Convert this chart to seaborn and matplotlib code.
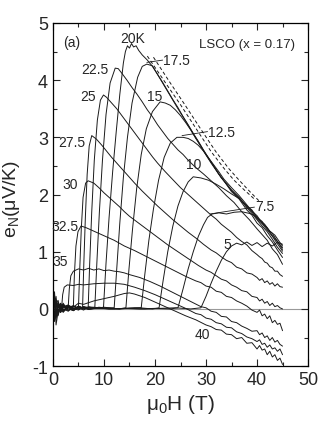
import matplotlib
matplotlib.use("Agg")
import matplotlib.pyplot as plt
import seaborn as sns
import pandas as pd
from matplotlib.ticker import MultipleLocator

# --- data: field mu0H (T) and Nernst signal e_N (uV/K) per temperature ---
h05 = [0, 0.3, 0.6, 1.0, 1.5, 2, 3, 4, 5, 6, 7, 9, 12, 15, 18, 21, 24, 27, 29, 30, 31, 32, 33, 34, 35, 36, 37, 38, 39, 40, 41, 42, 43, 44, 45]
e05 = [0, 0.15, -0.12, 0.06, -0.04, 0.05, -0.03, 0.04, 0.0, 0.03, -0.01, 0.02, 0.0, 0.01, 0.0, 0.01, 0.02, 0.0, 0.02, 0.22, 0.45, 0.66, 0.85, 1.0, 1.1, 1.15, 1.12, 1.17, 1.11, 1.16, 1.09, 1.15, 1.1, 1.17, 1.13]

h075 = [0, 0.3, 0.6, 1.0, 1.5, 2, 3, 4, 5, 6, 8, 11, 14, 17, 20, 23, 24.5, 25.5, 26.5, 27.5, 28.5, 29.5, 30.3, 31.2, 32.5, 34, 35.5, 37, 38.5, 39.5, 40.5, 41.5, 42.5, 43.5, 44.5, 45]
e075 = [0, -0.1, 0.12, -0.05, 0.07, -0.02, 0.05, -0.03, 0.03, 0.0, 0.02, 0.0, 0.01, 0.0, 0.01, 0.0, 0.02, 0.35, 0.7, 1.0, 1.27, 1.47, 1.6, 1.66, 1.68, 1.66, 1.69, 1.7, 1.67, 1.64, 1.55, 1.48, 1.36, 1.29, 1.16, 1.1]

h10 = [0, 0.3, 0.6, 1.0, 1.5, 2, 3, 4, 5, 6, 8, 11, 14, 17, 19.5, 20.8, 21.6, 22.5, 23.5, 24.5, 25.5, 26.5, 27.5, 29, 30.5, 32, 33.5, 35, 36.5, 38, 39, 40, 41, 42, 43, 44, 45]
e10 = [0, 0.08, -0.1, 0.1, -0.06, 0.04, 0.07, -0.02, 0.05, 0.01, 0.03, 0.0, 0.01, 0.02, 0.0, 0.02, 0.5, 1.0, 1.45, 1.8, 2.05, 2.22, 2.31, 2.29, 2.25, 2.18, 2.1, 2.01, 1.93, 1.8, 1.73, 1.6, 1.53, 1.4, 1.32, 1.18, 1.07]

h125 = [0, 0.3, 0.6, 1.0, 1.5, 2, 3, 4, 5, 6, 8, 10, 13, 16, 17.3, 18, 18.8, 19.7, 20.7, 21.8, 23, 24.3, 25.5, 26.5, 27.5, 28.5, 29.5, 30.5, 31.5, 32.5, 33.5, 35, 36.5, 38, 39, 40, 41, 42, 43, 44, 45]
e125 = [0, 0.2, -0.05, 0.04, 0.09, -0.04, 0.02, 0.06, -0.01, 0.04, 0.01, 0.03, 0.0, 0.02, 0.02, 0.6, 1.2, 1.75, 2.25, 2.65, 2.9, 3.0, 3.0, 2.98, 2.93, 2.86, 2.76, 2.64, 2.52, 2.4, 2.27, 2.12, 1.98, 1.82, 1.71, 1.63, 1.5, 1.42, 1.28, 1.18, 1.04]

h15 = [0, 0.3, 0.6, 1.0, 1.5, 2, 3, 4, 5, 6, 7, 9, 11, 13, 14.3, 14.9, 15.6, 16.4, 17.3, 18.3, 19.5, 21, 22, 23, 24, 25, 26, 27, 28, 29, 30, 31, 32, 33, 34, 35, 36.5, 38, 39, 40, 41, 42, 43, 44, 45]
e15 = [0, -0.15, 0.1, -0.08, 0.05, 0.08, -0.03, 0.05, 0.02, -0.02, 0.04, 0.01, 0.02, 0.0, 0.02, 0.7, 1.4, 2.1, 2.7, 3.15, 3.45, 3.62, 3.6, 3.56, 3.48, 3.38, 3.26, 3.13, 2.98, 2.84, 2.69, 2.55, 2.42, 2.29, 2.19, 2.08, 1.95, 1.79, 1.7, 1.58, 1.49, 1.38, 1.27, 1.14, 1.01]

h175 = [0, 0.3, 0.6, 1.0, 1.5, 2, 3, 4, 5, 6, 7, 9, 11, 12, 12.5, 13.1, 13.8, 14.6, 15.5, 16.6, 17.5, 18.4, 19.5, 20.5, 21.5, 22.5, 23.5, 24.5, 25.5, 26.5, 27.5, 28.5, 29.5, 30.5, 31.5, 32.5, 33.5, 35, 36.5, 38, 39, 40, 41, 42, 43, 44, 45]
e175 = [0, 0.1, 0.22, -0.1, 0.03, -0.05, 0.06, 0.0, 0.04, 0.02, -0.01, 0.03, 0.01, 0.02, 0.7, 1.5, 2.3, 3.0, 3.6, 4.05, 4.24, 4.28, 4.25, 4.1, 3.95, 3.8, 3.65, 3.5, 3.36, 3.21, 3.06, 2.92, 2.77, 2.63, 2.5, 2.36, 2.24, 2.07, 1.94, 1.77, 1.67, 1.56, 1.45, 1.35, 1.22, 1.08, 0.97]

h20 = [0, 0.3, 0.6, 1.0, 1.5, 2, 3, 4, 5, 6, 7, 8, 9, 9.9, 10.4, 11, 11.7, 12.4, 13.1, 13.8, 14.2, 14.6, 15, 15.4, 15.8, 16.3, 16.8, 17.5, 18.5, 19.5, 20.5, 21.5, 22.5, 23.5, 24.5, 25.5, 26.5, 27.5, 28.5, 29.5, 30.5, 31.5, 32.5, 33.5, 35, 36.5, 38, 39, 40, 41, 42, 43, 44, 45]
e20 = [0, -0.2, 0.1, 0.05, -0.06, 0.04, 0.02, -0.03, 0.05, 0.0, 0.03, 0.01, 0.02, 0.02, 0.8, 1.6, 2.4, 3.1, 3.75, 4.3, 4.5, 4.6, 4.56, 4.64, 4.58, 4.6, 4.52, 4.44, 4.35, 4.24, 4.1, 3.96, 3.81, 3.66, 3.52, 3.36, 3.22, 3.07, 2.93, 2.78, 2.64, 2.5, 2.36, 2.24, 2.05, 1.92, 1.73, 1.64, 1.5, 1.42, 1.28, 1.17, 1.03, 0.9]

h225 = [0, 0.3, 0.6, 1.0, 1.5, 2, 3, 4, 5, 6, 7, 8.2, 8.6, 9.1, 9.7, 10.4, 11.2, 12.2, 12.8, 13.5, 14.5, 15.5, 16.5, 17.5, 18.5, 19.5, 20.5, 21.5, 22.5, 23.5, 24.5, 25.5, 26.5, 28, 29.5, 31, 32.5, 34, 35.5, 37, 38.5, 40, 41, 42, 43, 44, 45]
e225 = [0, 0.12, -0.18, 0.08, 0.02, -0.06, 0.05, 0.01, -0.02, 0.04, 0.0, 0.02, 0.8, 1.7, 2.6, 3.4, 3.95, 4.21, 4.2, 4.12, 4.0, 3.87, 3.75, 3.62, 3.48, 3.36, 3.22, 3.1, 2.98, 2.88, 2.78, 2.7, 2.6, 2.47, 2.36, 2.24, 2.12, 1.98, 1.86, 1.7, 1.56, 1.4, 1.3, 1.2, 1.05, 0.95, 0.78]

h25 = [0, 0.3, 0.6, 1.0, 1.5, 2, 3, 4, 5, 6, 6.9, 7.2, 7.6, 8.1, 8.7, 9.3, 9.9, 10.5, 11.5, 12.5, 13.5, 14.5, 15.5, 16.5, 17.5, 18.5, 19.5, 20.5, 22, 23.5, 25, 26.5, 28, 29.5,
       31, 32, 33, 34, 35, 36, 37, 38, 39, 40, 40.5, 41, 41.5, 42, 42.5, 43, 43.5, 44, 44.5, 45]
e25 = [0, 0.05, 0.15, -0.12, 0.07, 0.0, -0.04, 0.05, 0.01, 0.03, 0.02, 0.8, 1.7, 2.6, 3.3, 3.65, 3.74, 3.7, 3.6, 3.5, 3.38, 3.26, 3.14, 3.02, 2.9, 2.78, 2.66, 2.55, 2.4, 2.26, 2.12, 2.0, 1.88, 1.76,
       1.64, 1.57, 1.48, 1.41, 1.34, 1.25, 1.18, 1.12, 1.02, 0.95, 0.91, 0.88, 0.82, 0.8, 0.74, 0.72, 0.66, 0.66, 0.6, 0.57]

h275 = [0, 0.3, 0.6, 1.0, 1.5, 2, 3, 4, 5, 5.8, 6.05, 6.35, 6.7, 7.1, 7.6, 8.5, 9.5, 10.5, 11.5, 12.5, 13.5, 14.5, 16, 17.5, 19, 20.5, 22, 23.5, 25, 26.5, 28,
        29.5, 31, 32, 33, 34, 35, 36, 37, 38, 39, 40, 40.5, 41, 41.5, 42, 42.5, 43, 43.5, 44, 44.5, 45]
e275 = [0, -0.08, 0.1, 0.15, -0.05, 0.06, 0.0, -0.03, 0.04, 0.02, 0.8, 1.6, 2.35, 2.85, 3.03, 2.97, 2.87, 2.76, 2.65, 2.55, 2.45, 2.35, 2.2, 2.06, 1.93, 1.8, 1.68, 1.56, 1.45, 1.34, 1.24,
        1.13, 1.03, 0.98, 0.91, 0.85, 0.81, 0.73, 0.7, 0.63, 0.61, 0.55, 0.5, 0.53, 0.46, 0.49, 0.43, 0.46, 0.4, 0.44, 0.39, 0.38]

h30 = [0, 0.3, 0.6, 1.0, 1.5, 2, 3, 4, 5.0, 5.25, 5.55, 5.9, 6.4, 6.9, 8, 9, 10, 11, 12, 13, 14, 15, 16.5, 18, 19.5, 21, 22.5, 24, 25.5, 27,
       28.5, 30, 31, 32, 33, 34, 35, 36, 37, 38, 39, 40, 40.5, 41, 41.5, 42, 42.5, 43, 43.5, 44, 44.5, 45]
e30 = [0, 0.3, -0.1, 0.05, 0.1, -0.04, 0.04, 0.0, 0.03, 0.7, 1.4, 1.95, 2.2, 2.24, 2.2, 2.12, 2.03, 1.95, 1.87, 1.79, 1.7, 1.62, 1.52, 1.42, 1.32, 1.22, 1.12, 1.03, 0.94, 0.85,
       0.76, 0.68, 0.64, 0.58, 0.52, 0.49, 0.42, 0.38, 0.32, 0.3, 0.22, 0.2, 0.14, 0.17, 0.1, 0.13, 0.06, 0.1, 0.04, 0.06, 0.02, 0.0]

h325 = [0, 0.3, 0.6, 1.0, 1.5, 2, 2.5, 3, 3.5, 4.0, 4.2, 4.5, 4.9, 5.5, 6.5, 8, 10, 12, 14, 16, 18, 20, 22, 24, 26,
        28, 29, 30, 31, 32, 33, 34, 35, 36, 37, 38, 39, 40, 40.5, 41, 41.5, 42, 42.5, 43, 43.5, 44, 44.5, 45]
e325 = [0, -0.22, 0.05, 0.12, -0.06, 0.08, 0.02, 0.06, 0.0, 0.04, 0.6, 1.1, 1.35, 1.45, 1.42, 1.36, 1.28, 1.2, 1.1, 1.02, 0.93, 0.84, 0.75, 0.66, 0.57,
        0.49, 0.46, 0.4, 0.38, 0.31, 0.29, 0.22, 0.2, 0.14, 0.1, 0.05, -0.02, -0.06, -0.02, -0.12, -0.09, -0.17, -0.12, -0.24, -0.2, -0.27, -0.25, -0.38]

h35 = [0, 0.3, 0.6, 1.0, 1.5, 2, 2.5, 3.0, 3.2, 3.5, 4, 5, 6, 7, 8, 9, 10, 11, 12, 13, 14, 15, 17, 19, 21, 23, 25, 27,
       29, 30, 31, 32, 33, 34, 35, 36, 37, 38, 39, 40, 40.5, 41, 41.5, 42, 42.5, 43, 43.5, 44, 44.5, 45]
e35 = [0, 0.1, -0.15, 0.08, -0.04, 0.1, 0.03, 0.05, 0.35, 0.58, 0.66, 0.7, 0.68, 0.71, 0.68, 0.7, 0.67, 0.68, 0.66, 0.65, 0.63, 0.6, 0.55, 0.48, 0.4, 0.31, 0.22, 0.13,
       0.04, 0.02, -0.04, -0.06, -0.13, -0.14, -0.22, -0.24, -0.3, -0.34, -0.39, -0.38, -0.45, -0.42, -0.5, -0.47, -0.55, -0.5, -0.58, -0.55, -0.62, -0.65]

h375 = [0, 0.3, 0.6, 1.0, 1.4, 1.7, 1.9, 2.2, 2.8, 4, 5, 6, 8, 10, 12, 14, 16, 18, 20, 22, 24, 26,
        28, 29, 30, 31, 32, 33, 34, 35, 36, 37, 38, 39, 40, 40.5, 41, 41.5, 42, 42.5, 43, 43.5, 44, 44.5, 45]
e375 = [0, 0.18, -0.1, 0.06, -0.02, 0.03, 0.25, 0.38, 0.42, 0.41, 0.43, 0.42, 0.44, 0.45, 0.45, 0.43, 0.38, 0.32, 0.25, 0.17, 0.09, 0.01,
        -0.08, -0.1, -0.16, -0.18, -0.24, -0.26, -0.32, -0.33, -0.4, -0.43, -0.49, -0.52, -0.57, -0.54, -0.62, -0.6, -0.67, -0.63, -0.7, -0.68, -0.74, -0.7, -0.8]

h40 = [0, 0.3, 0.6, 1, 1.5, 2, 3, 4, 5, 6, 8, 10, 12, 14, 15, 16, 18, 20, 22, 24, 26, 28,
       30, 31, 32, 33, 34, 35, 36, 37, 38, 39, 40, 40.5, 41, 41.5, 42, 42.5, 43, 43.5, 44, 44.5, 45]
e40 = [0, 0.25, -0.28, -0.05, 0.08, 0.02, 0.06, 0.03, 0.1, 0.08, 0.14, 0.18, 0.22, 0.27, 0.28, 0.26, 0.2, 0.12, 0.04, -0.04, -0.12, -0.19,
       -0.28, -0.31, -0.36, -0.37, -0.44, -0.45, -0.52, -0.5, -0.6, -0.59, -0.7, -0.64, -0.72, -0.7, -0.8, -0.74, -0.84, -0.8, -0.9, -0.86, -0.97]

# two dashed guide lines above the envelope
hd1 = [18.5, 22, 25, 28, 31, 33.5, 35.5, 37.5, 39.5]
ed1 = [4.42, 3.96, 3.57, 3.16, 2.75, 2.46, 2.25, 2.08, 1.92]
hd2 = [19.7, 23, 26, 29, 32, 34.5, 36.5, 38.5, 40.5]
ed2 = [4.4, 3.95, 3.55, 3.14, 2.74, 2.45, 2.25, 2.06, 1.88]

temps = [5, 7.5, 10, 12.5, 15, 17.5, 20, 22.5, 25, 27.5, 30, 32.5, 35, 37.5, 40]
fields = [h05, h075, h10, h125, h15, h175, h20, h225, h25, h275, h30, h325, h35, h375, h40]
signals = [e05, e075, e10, e125, e15, e175, e20, e225, e25, e275, e30, e325, e35, e375, e40]

# curve labels: text, x, y
labels = ["(a)", "20K", "22.5", "25", "27.5", "30", "32.5", "35", "15", "10", "5", "40"]
label_x = [2.0, 15.7, 8.2, 6.9, 3.7, 3.3, 2.4, 1.4, 20.0, 27.5, 34.1, 29.2]
label_y = [4.67, 4.74, 4.2, 3.72, 2.92, 2.19, 1.45, 0.84, 3.72, 2.53, 1.14, -0.44]

rows = []
for T, hs, es in zip(temps, fields, signals):
    for h, e in zip(hs, es):
        rows.append({"T": T, "H": h, "e": e})
df = pd.DataFrame(rows)

dash_rows = [{"k": 1, "H": h, "e": e} for h, e in zip(hd1, ed1)] + \
            [{"k": 2, "H": h, "e": e} for h, e in zip(hd2, ed2)]
df_dash = pd.DataFrame(dash_rows)

sns.set_style("ticks")
plt.rcParams["font.family"] = ["Liberation Sans", "DejaVu Sans"]
plt.rcParams["mathtext.fontset"] = "custom"
plt.rcParams["mathtext.rm"] = "Liberation Sans"
plt.rcParams["mathtext.it"] = "Liberation Sans:italic"

fig = plt.figure(figsize=(3.27, 4.35), dpi=100)
ax = fig.add_axes([0.162, 0.156, 0.780, 0.789])

ax.axhline(0, color="0.6", lw=0.8, zorder=0)
sns.lineplot(data=df, x="H", y="e", units="T", estimator=None, sort=False,
             color="#1a1a1a", lw=0.7, legend=False, ax=ax)
sns.lineplot(data=df_dash, x="H", y="e", units="k", estimator=None, sort=False,
             color="#1a1a1a", lw=0.7, linestyle=(0, (3.5, 2.5)), legend=False, ax=ax)

for txt, x, y in zip(labels, label_x, label_y):
    ax.text(x, y, txt, fontsize=10, ha="left" if txt == "(a)" else "center", va="center")

# labels with short leader lines
ax.text(21.6, 4.35, "17.5", fontsize=10, ha="left", va="center")
ax.plot([18.4, 21.5], [4.31, 4.35], color="#1a1a1a", lw=0.6)
ax.text(30.4, 3.1, "12.5", fontsize=10, ha="left", va="center")
ax.plot([25.3, 30.3], [3.03, 3.1], color="#1a1a1a", lw=0.6)
ax.text(39.6, 1.8, "7.5", fontsize=10, ha="left", va="center")
ax.plot([30.8, 39.5], [1.66, 1.78], color="#1a1a1a", lw=0.6)

ax.text(38, 4.63, "LSCO (x = 0.17)", fontsize=9.5, ha="center", va="center")

ax.set_xlim(0, 50)
ax.set_ylim(-1, 5)
ax.xaxis.set_major_locator(MultipleLocator(10))
ax.xaxis.set_minor_locator(MultipleLocator(5))
ax.yaxis.set_major_locator(MultipleLocator(1))
ax.yaxis.set_minor_locator(MultipleLocator(0.5))
ax.tick_params(which="both", direction="in", top=True, right=True, labelsize=13, width=0.8)
ax.tick_params(which="major", length=5)
ax.tick_params(which="minor", length=3)
ax.set_yticks([-1, 0, 1, 2, 3, 4, 5])
ax.set_yticklabels(["-1", "0", "1", "2", "3", "4", "5"])
for s in ax.spines.values():
    s.set_linewidth(0.9)
    s.set_color("black")

ax.set_xlabel(r"$\mathregular{μ_0H\ (T)}$", fontsize=15)
ax.set_ylabel(r"$\mathregular{e_N(μV/K)}$", fontsize=14)
ax.xaxis.set_label_coords(0.5, -0.075)
ax.yaxis.set_label_coords(-0.12, 0.49)

fig.savefig("out.png", dpi=100)
